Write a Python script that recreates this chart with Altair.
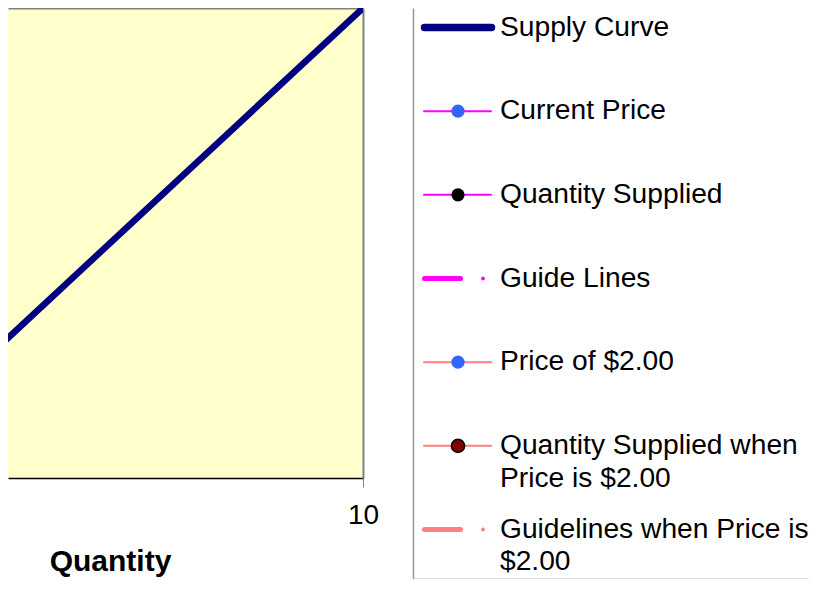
import altair as alt
import pandas as pd

# ---- data -------------------------------------------------------------
supply_q = [0, 10]          # Quantity
supply_p = [0, 5]           # Price
x_visible = [2.98, 10]      # visible part of the quantity axis
y_domain = [0, 5]
x_ticks = [10]

legend_labels = [
    "Supply Curve",
    "Current Price",
    "Quantity Supplied",
    "Guide Lines",
    "Price of $2.00",
    "Quantity Supplied when\nPrice is $2.00",
    "Guidelines when Price is\n$2.00",
]
legend_line_colors = ["#000080", "#FF00FF", "#FF00FF", "#FF00FF",
                      "#FF8080", "#FF8080", "#FF8080"]
legend_kinds = ["thick", "marker", "marker", "guide", "marker", "marker", "guide"]
legend_marker_fill = ["", "#3366FF", "#000000", "", "#3366FF", "#800000", ""]
legend_marker_stroke = ["", "#3366FF", "#000000", "", "#3366FF", "#000000", ""]

FONT = "Liberation Sans"
LEG_W, LEG_H = 396, 571
ROW0, ROW_STEP = 19.5, 83.67

# ---- main plot ----------------------------------------------------------
sup = pd.DataFrame({"Quantity": supply_q, "Price": supply_p})
xs = alt.Scale(domain=x_visible, nice=False, zero=False)
ys = alt.Scale(domain=y_domain, nice=False, zero=False)

line = alt.Chart(sup).mark_line(color="#000080", strokeWidth=6.5, clip=True).encode(
    x=alt.X("Quantity:Q", scale=xs,
            axis=alt.Axis(orient="bottom", values=x_ticks, grid=False,
                          domainColor="#000000", domainWidth=1.5,
                          tickColor="#808080", tickSize=9, tickWidth=1,
                          labelFontSize=28, labelFont=FONT, labelColor="#000000",
                          labelPadding=14, labelFlush=False,
                          title="Quantity", titleFontSize=30, titleFont=FONT,
                          titleFontWeight="bold", titleColor="#000000",
                          titleX=102, titleY=92, titleAlign="center",
                          titleBaseline="alphabetic")),
    y=alt.Y("Price:Q", scale=ys, axis=None),
)

frame = alt.Chart(sup).mark_line(strokeOpacity=0, clip=True).encode(
    x=alt.X("Quantity:Q", scale=xs,
            axis=alt.Axis(orient="top", domainColor="#808080", domainWidth=2,
                          ticks=False, labels=False, title=None, grid=False)),
    y=alt.Y("Price:Q", scale=ys,
            axis=alt.Axis(orient="right", domainColor="#808080", domainWidth=2,
                          ticks=False, labels=False, title=None, grid=False)),
)

left = alt.layer(line, frame).resolve_axis(x="independent", y="independent").properties(
    width=355, height=470,
    view=alt.ViewBackground(fill="#FFFFCC", stroke=None),
)

# ---- legend panel ---------------------------------------------------------
sym_rows, pt_rows, txt_rows = [], [], []
for i, (lab, col, kind, mf, ms) in enumerate(zip(legend_labels, legend_line_colors,
                                                 legend_kinds, legend_marker_fill,
                                                 legend_marker_stroke)):
    if kind == "thick":
        sym_rows.append({"row": i, "x1": 11.5, "x2": 78.5, "color": col, "w": 7.5})
    elif kind == "marker":
        sym_rows.append({"row": i, "x1": 11, "x2": 78, "color": col, "w": 2})
        pt_rows.append({"row": i, "x": 45, "fill": mf, "stroke": ms,
                        "size": 175, "sw": 1.5 if mf != ms else 0})
    else:
        sym_rows.append({"row": i, "x1": 11.5, "x2": 47.5, "color": col, "w": 5})
        pt_rows.append({"row": i, "x": 70, "fill": col, "stroke": col,
                        "size": 15, "sw": 0})
    for k, part in enumerate(lab.split("\n")):
        txt_rows.append({"row": i + k * 0.394, "x": 87, "text": part})

sym_df = pd.DataFrame(sym_rows)
pt_df = pd.DataFrame(pt_rows)
txt_df = pd.DataFrame(txt_rows)

lx = alt.Scale(domain=[0, LEG_W], nice=False, zero=False)
ly = alt.Scale(domain=[-ROW0 / ROW_STEP, (LEG_H - ROW0) / ROW_STEP],
               nice=False, zero=False, reverse=True)

rules = alt.Chart(sym_df).mark_rule(strokeCap="round").encode(
    x=alt.X("x1:Q", scale=lx,
            axis=alt.Axis(orient="bottom", domainColor="#888888", domainWidth=1.5,
                          ticks=False, labels=False, title=None, grid=False)),
    x2="x2:Q",
    y=alt.Y("row:Q", scale=ly,
            axis=alt.Axis(orient="left", domainColor="#999999", domainWidth=1.5,
                          ticks=False, labels=False, title=None, grid=False)),
    color=alt.Color("color:N", scale=None),
    strokeWidth=alt.StrokeWidth("w:Q", scale=None),
)

pts = alt.Chart(pt_df).mark_circle(opacity=1).encode(
    x=alt.X("x:Q", scale=lx),
    y=alt.Y("row:Q", scale=ly),
    fill=alt.Fill("fill:N", scale=None),
    stroke=alt.Stroke("stroke:N", scale=None),
    strokeWidth=alt.StrokeWidth("sw:Q", scale=None),
    size=alt.Size("size:Q", scale=None),
)

txt = alt.Chart(txt_df).mark_text(align="left", baseline="middle", fontSize=28.2,
                                  font=FONT, color="#000000").encode(
    x=alt.X("x:Q", scale=lx),
    y=alt.Y("row:Q", scale=ly),
    text="text:N",
)

legend = alt.layer(rules, pts, txt).properties(
    width=LEG_W, height=LEG_H,
    view=alt.ViewBackground(fill="#FFFFFF", stroke=None),
)

chart = alt.hconcat(left, legend, spacing=50, bounds="flush").properties(
    padding=0, background="#FFFFFF",
).configure(font=FONT)

chart.save("out.html", embed_options={"renderer": "svg", "actions": False})
